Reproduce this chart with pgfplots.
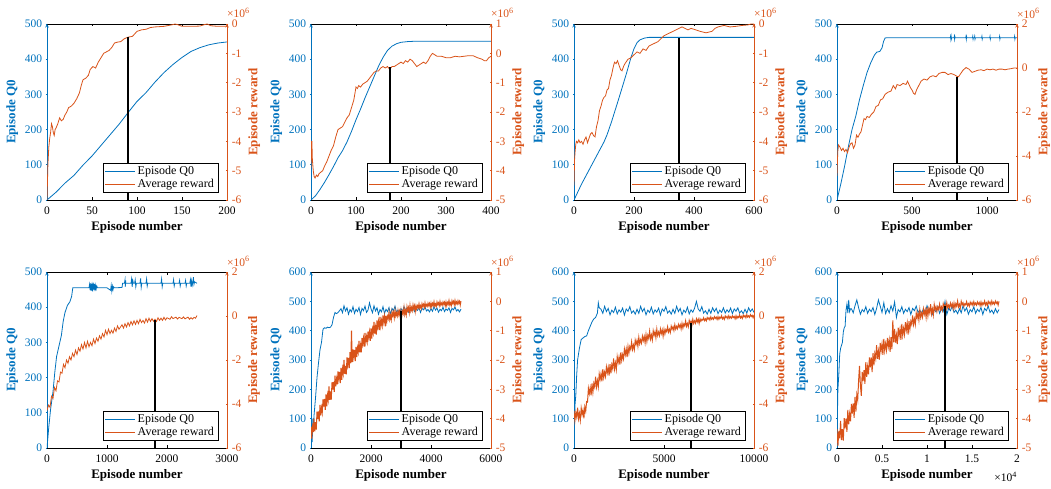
\documentclass[border=0pt]{standalone}
\usepackage{fontspec}
\setmainfont{Liberation Serif}
\usepackage{pgfplots}
\pgfplotsset{compat=1.18}
\definecolor{mblue}{RGB}{0,114,189}
\definecolor{morange}{RGB}{217,83,25}
\newcommand\ticfont{\fontsize{11.5}{13}\selectfont}
\newcommand\labfont{\fontsize{13}{15}\selectfont\bfseries}
\newcommand\legfont{\fontsize{12}{13}\selectfont}
\pgfplotsset{
  panelbase/.style={scale only axis, width=180pt, height=176pt, anchor=south west,
    tick align=inside, major tick length=2.5pt, tick style={line width=0.6pt},
    /pgf/number format/assume math mode=true, /pgf/number format/1000 sep={},
    scaled ticks=false, axis line style={-, line width=0.6pt},
    tick label style={font=\ticfont},
    every axis plot/.append style={line width=0.8pt}},
  leftpanel/.style={panelbase, axis x line=box, axis y line=left,
    x axis line style={black}, y axis line style={mblue},
    xtick style={black}, ytick style={mblue}, xticklabel shift=3pt,
    yticklabel style={text=mblue}, ylabel style={font=\labfont, text=mblue},
    xlabel style={font=\labfont, text=black},
    xlabel={Episode number}, ylabel={Episode Q0}},
  rightpanel/.style={panelbase, axis x line=none, axis y line=right,
    y axis line style={morange}, ytick style={morange},
    yticklabel style={text=morange}, ylabel style={font=\labfont, text=morange},
    ylabel={Episode reward},
    legend style={at={(0.95,0.045)}, anchor=south east, draw=black, fill=white,
      font=\legfont, inner xsep=2pt, inner ysep=1pt, row sep=-1pt, cells={anchor=west}},
    legend image code/.code={\draw[##1, line width=0.8pt] (0pt,0pt) -- (30pt,0pt);},
    extra description/.code={\node[anchor=base west, text=morange, font=\ticfont, inner sep=0pt] at (1,1) [yshift=6pt] {×10\textsuperscript{6}};}}
}
\begin{document}
\begin{tikzpicture}
\useasboundingbox (0pt,0pt) rectangle (1051pt,489pt);
% ---------------- Panel 1
\begin{axis}[leftpanel, at={(47pt,289pt)}, xmin=0, xmax=200, ymin=0, ymax=500, xtick={0,50,...,200}, ytick={0,100,...,500}]
\addplot[mblue] coordinates {(0,0)(10,22)(20,48)(30,70)(40,99)(50,125)(60,155)(70,185)(80,215)(90,248)(100,280)(110,305)(120,335)(130,362)(140,385)(150,405)(160,422)(170,433)(180,441)(190,446)(200,449)};
\end{axis}
\begin{axis}[rightpanel, at={(47pt,289pt)}, xmin=0, xmax=200, ymin=-6, ymax=0, ytick={-6,...,0}]
\addlegendimage{mblue}\addlegendentry{Episode Q0}
\addplot[morange] coordinates {(0,-6)(1,-4.8)(2,-4.2)(3,-3.9)(4,-3.7)(5,-3.4)(6,-3.5)(7,-3.7)(8,-3.8)(9,-3.6)(10,-3.55)(12,-3.4)(14,-3.2)(16,-3.3)(18,-3.25)(20,-3.1)(22,-3.0)(24,-2.85)(27,-2.8)(30,-2.7)(33,-2.55)(36,-2.35)(38,-2.1)(40,-1.9)(43,-1.85)(46,-1.75)(48,-1.55)(51,-1.45)(54,-1.5)(57,-1.3)(60,-1.15)(63,-1.0)(66,-0.95)(69,-0.9)(72,-0.8)(75,-0.65)(78,-0.62)(82,-0.6)(86,-0.5)(90,-0.45)(95,-0.42)(100,-0.25)(105,-0.2)(110,-0.18)(115,-0.12)(120,-0.1)(130,-0.08)(140,-0.02)(142,0)(145,-0.02)(150,-0.08)(160,-0.08)(170,-0.07)(175,-0.02)(178,0)(182,-0.06)(190,-0.08)(200,-0.08)};
\addlegendentry{Average reward}
\addplot[black, line width=1.6pt, forget plot] coordinates {(90,-6)(90,-0.45)};
\end{axis}
% ---------------- Panel 2
\begin{axis}[leftpanel, at={(311pt,289pt)}, xmin=0, xmax=400, ymin=0, ymax=500, xtick={0,100,...,400}, ytick={0,100,...,500}]
\addplot[mblue] coordinates {(0,0)(10,12)(20,30)(30,50)(40,72)(50,95)(60,120)(70,140)(80,165)(90,195)(100,228)(110,258)(120,290)(130,320)(140,350)(150,380)(160,405)(170,425)(180,437)(190,444)(200,448)(215,450)(230,451)(400,451)};
\end{axis}
\begin{axis}[rightpanel, at={(311pt,289pt)}, xmin=0, xmax=400, ymin=-5, ymax=1, ytick={-5,...,1}]
\addlegendimage{mblue}\addlegendentry{Episode Q0}
\addplot[morange] coordinates {(0,-3.9)(1,-3.0)(2,-3.0)(3,-3.6)(5,-4.0)(7,-4.2)(9,-4.25)(12,-4.15)(15,-4.2)(18,-4.1)(22,-4.05)(26,-4.0)(30,-3.85)(35,-3.7)(40,-3.5)(45,-3.3)(50,-3.15)(55,-2.85)(60,-2.6)(65,-2.55)(70,-2.5)(75,-2.35)(80,-2.2)(85,-2.1)(90,-1.85)(95,-1.6)(100,-1.15)(103,-1.2)(106,-1.1)(110,-1.15)(115,-1.05)(120,-1.0)(125,-0.95)(130,-0.85)(135,-0.75)(140,-0.65)(145,-0.6)(150,-0.6)(155,-0.5)(160,-0.45)(165,-0.5)(170,-0.45)(175,-0.55)(180,-0.45)(185,-0.45)(190,-0.4)(195,-0.35)(200,-0.3)(205,-0.35)(210,-0.25)(215,-0.3)(220,-0.2)(225,-0.25)(230,-0.35)(235,-0.45)(240,-0.4)(245,-0.35)(250,-0.3)(255,-0.35)(260,-0.25)(265,-0.1)(270,0)(275,-0.05)(280,-0.1)(290,-0.1)(300,-0.15)(310,-0.15)(320,-0.1)(330,-0.12)(340,-0.1)(350,-0.08)(360,-0.08)(370,-0.15)(380,-0.2)(385,-0.25)(390,-0.25)(395,-0.15)(400,-0.1)};
\addlegendentry{Average reward}
\addplot[black, line width=1.6pt, forget plot] coordinates {(175,-5)(175,-0.45)};
\end{axis}
% ---------------- Panel 3
\begin{axis}[leftpanel, at={(574pt,289pt)}, xmin=0, xmax=600, ymin=0, ymax=500, xtick={0,200,...,600}, ytick={0,100,...,500}]
\addplot[mblue] coordinates {(0,0)(10,18)(25,45)(50,85)(75,125)(100,165)(110,185)(125,222)(150,290)(175,360)(190,405)(200,430)(210,447)(220,455)(235,460)(250,462)(600,462)};
\end{axis}
\begin{axis}[rightpanel, at={(574pt,289pt)}, xmin=0, xmax=600, ymin=-6, ymax=0, ytick={-6,...,0}]
\addlegendimage{mblue}\addlegendentry{Episode Q0}
\addplot[morange] coordinates {(0,-5.5)(2,-4.6)(4,-4.3)(6,-4.1)(8,-4.0)(12,-4.05)(16,-3.95)(20,-4.05)(25,-4.0)(30,-4.1)(35,-3.95)(40,-3.85)(45,-4.05)(50,-3.9)(55,-3.75)(60,-3.7)(65,-3.8)(70,-3.85)(75,-3.5)(80,-3.3)(85,-2.95)(90,-2.8)(95,-2.6)(100,-2.5)(105,-2.45)(110,-2.25)(115,-2.2)(120,-1.9)(125,-1.75)(130,-1.5)(135,-1.3)(140,-1.35)(145,-1.25)(150,-1.4)(155,-1.55)(160,-1.6)(165,-1.45)(170,-1.35)(180,-1.2)(190,-1.15)(200,-1.05)(210,-0.95)(220,-1.0)(230,-0.85)(240,-0.9)(250,-0.75)(260,-0.7)(270,-0.65)(280,-0.6)(290,-0.5)(300,-0.4)(310,-0.35)(320,-0.3)(330,-0.25)(340,-0.2)(350,-0.15)(360,-0.1)(370,-0.15)(380,-0.2)(390,-0.15)(400,-0.18)(420,-0.25)(440,-0.3)(460,-0.25)(470,-0.15)(480,-0.1)(500,-0.05)(520,-0.1)(540,-0.08)(560,-0.05)(580,-0.03)(590,0)(600,0)};
\addlegendentry{Average reward}
\addplot[black, line width=1.6pt, forget plot] coordinates {(350,-6)(350,-0.49)};
\end{axis}
% ---------------- Panel 4
\begin{axis}[leftpanel, at={(837pt,289pt)}, xmin=0, xmax=1200, ymin=0, ymax=500, xtick={0,500,1000}, ytick={0,100,...,500}]
\addplot[mblue] coordinates {(0,0)(25,45)(50,95)(75,150)(100,200)(125,238)(150,285)(175,325)(200,362)(225,390)(250,412)(265,420)(285,422)(300,432)(310,450)(320,460)(330,461)(755,461)(757,465)(759,457)(761,465)(763,458)(765,461)(780,461)(782,465)(784,457)(786,464)(788,461)(858,461)(860,465)(862,457)(864,464)(866,461)(903,461)(905,465)(907,457)(909,461)(916,461)(918,465)(920,457)(922,461)(964,461)(966,465)(968,457)(970,461)(1018,461)(1020,465)(1022,457)(1024,461)(1082,461)(1084,465)(1086,457)(1088,461)(1182,461)(1184,465)(1186,457)(1188,461)(1200,461)};
\end{axis}
\begin{axis}[rightpanel, at={(837pt,289pt)}, xmin=0, xmax=1200, ymin=-6, ymax=2, ytick={-6,-4,...,2}]
\addlegendimage{mblue}\addlegendentry{Episode Q0}
\addplot[morange] coordinates {(0,-4.9)(5,-3.8)(10,-3.5)(20,-3.6)(30,-3.75)(40,-3.65)(50,-3.8)(60,-3.7)(70,-3.85)(80,-3.6)(90,-3.45)(100,-3.4)(110,-3.65)(120,-3.5)(130,-3.05)(140,-3.15)(150,-3.0)(160,-2.9)(170,-2.6)(180,-2.3)(190,-2.35)(200,-2.2)(215,-2.25)(230,-2.1)(245,-2.0)(260,-1.75)(275,-1.7)(290,-1.45)(305,-1.4)(320,-1.2)(340,-1.1)(360,-1.05)(375,-0.8)(390,-0.95)(400,-0.75)(420,-0.8)(440,-0.7)(460,-0.75)(470,-0.6)(480,-0.75)(490,-0.9)(500,-1.0)(510,-1.15)(520,-1.2)(530,-1.0)(545,-0.8)(560,-0.6)(580,-0.5)(600,-0.55)(620,-0.4)(640,-0.35)(660,-0.4)(680,-0.25)(700,-0.2)(720,-0.2)(740,-0.3)(760,-0.25)(780,-0.3)(800,-0.38)(810,-0.4)(820,-0.3)(840,-0.1)(860,0.02)(880,-0.05)(900,-0.2)(920,-0.15)(940,-0.1)(960,-0.08)(980,-0.12)(1000,-0.05)(1020,-0.08)(1040,-0.05)(1060,-0.1)(1080,-0.05)(1100,-0.05)(1120,-0.08)(1140,-0.05)(1160,-0.03)(1180,0)(1200,0)};
\addlegendentry{Average reward}
\addplot[black, line width=1.6pt, forget plot] coordinates {(800,-6)(800,-0.4)};
\end{axis}
% ---------------- Panel 5
\begin{axis}[leftpanel, at={(47pt,41pt)}, xmin=0, xmax=3000, ymin=0, ymax=500, xtick={0,1000,...,3000}, ytick={0,100,...,500}]
\addplot[mblue] coordinates {(0,0)(30,60)(60,110)(100,160)(130,215)(160,260)(200,290)(240,320)(270,360)(300,385)(340,405)(380,415)(410,430)(430,455)(500,455)(700,455)(710,465)(720,448)(730,468)(740,447)(750,462)(760,445)(770,470)(780,450)(790,466)(800,446)(810,462)(820,452)(830,460)(840,455)(900,455)(1000,455)(1060,448)(1070,462)(1080,446)(1090,460)(1100,450)(1110,458)(1120,455)(1250,456)(1260,468)(1290,468)(1300,478)(1305,458)(1310,476)(1315,468)(1400,468)(1410,480)(1420,458)(1430,476)(1440,468)(1460,468)(1470,478)(1480,458)(1490,468)(1550,468)(1560,482)(1570,456)(1580,468)(1650,468)(1660,480)(1670,460)(1680,468)(1900,468)(1910,480)(1920,458)(1930,468)(2000,468)(2100,468)(2110,478)(2120,460)(2130,468)(2200,468)(2210,476)(2220,460)(2230,468)(2300,468)(2310,476)(2320,460)(2330,468)(2380,468)(2390,478)(2400,458)(2410,475)(2420,462)(2430,470)(2440,485)(2450,465)(2460,472)(2500,468)};
\end{axis}
\begin{axis}[rightpanel, at={(47pt,41pt)}, xmin=0, xmax=3000, ymin=-6, ymax=2, ytick={-6,-4,...,2}]
\addlegendimage{mblue}\addlegendentry{Episode Q0}
\addplot[morange] coordinates {(0,-4.30)(25,-4.05)(50,-4.15)(75,-3.65)(100,-3.75)(125,-3.25)(150,-3.40)(175,-2.95)(200,-3.00)(225,-2.55)(250,-2.60)(275,-2.20)(300,-2.35)(325,-2.00)(350,-2.15)(375,-1.85)(400,-2.00)(425,-1.70)(450,-1.85)(475,-1.55)(500,-1.75)(525,-1.45)(550,-1.60)(575,-1.30)(600,-1.50)(625,-1.20)(650,-1.45)(675,-1.15)(700,-1.40)(725,-1.20)(750,-1.35)(775,-1.05)(800,-1.25)(825,-1.00)(850,-1.15)(875,-0.90)(900,-1.05)(925,-0.80)(950,-0.95)(975,-0.65)(1000,-0.85)(1025,-0.60)(1050,-0.80)(1075,-0.65)(1100,-0.78)(1125,-0.55)(1150,-0.70)(1175,-0.45)(1200,-0.60)(1250,-0.40)(1275,-0.55)(1300,-0.35)(1325,-0.50)(1350,-0.30)(1375,-0.45)(1400,-0.25)(1425,-0.40)(1450,-0.22)(1475,-0.38)(1500,-0.20)(1525,-0.35)(1550,-0.15)(1575,-0.30)(1600,-0.20)(1625,-0.32)(1650,-0.12)(1675,-0.28)(1700,-0.10)(1725,-0.25)(1750,-0.12)(1775,-0.24)(1800,-0.15)(1825,-0.25)(1850,-0.08)(1875,-0.20)(1900,-0.10)(1925,-0.20)(1950,-0.06)(1975,-0.18)(2000,-0.08)(2050,-0.15)(2075,-0.03)(2100,-0.12)(2150,-0.05)(2175,-0.14)(2200,-0.06)(2250,-0.12)(2275,-0.04)(2300,-0.13)(2350,-0.05)(2375,-0.15)(2400,-0.08)(2425,-0.14)(2450,-0.06)(2475,-0.10)(2500,0.02)};
\addlegendentry{Average reward}
\addplot[black, line width=1.6pt, forget plot] coordinates {(1800,-6)(1800,-0.18)};
\end{axis}
% ---------------- Panel 6
\begin{axis}[leftpanel, at={(311pt,41pt)}, xmin=0, xmax=6000, ymin=0, ymax=600, xtick={0,2000,...,6000}, ytick={0,100,...,600}]
\addplot[mblue] coordinates {(0,0)(20,60)(40,20)(60,100)(80,70)(100,110)(150,170)(200,240)(250,290)(300,335)(350,360)(400,405)(450,410)(500,408)(550,412)(600,410)(650,412)(700,420)(750,445)(800,462)(850,458)(900,462)(950,468)(1000,475)(1050,461)(1100,485)(1150,467)(1200,478)(1250,456)(1300,472)(1350,464)(1400,482)(1450,459)(1500,473)(1550,465)(1600,479)(1650,455)(1700,476)(1750,468)(1800,484)(1850,462)(1900,470)(1950,495)(2000,475)(2050,461)(2100,485)(2150,467)(2200,478)(2250,456)(2300,472)(2350,464)(2400,482)(2450,459)(2500,473)(2550,465)(2600,479)(2650,455)(2700,476)(2750,468)(2800,484)(2850,462)(2900,470)(2950,458)(3000,475)(3050,466)(3100,482)(3150,470)(3200,477)(3250,463)(3300,473)(3350,468)(3400,480)(3450,465)(3500,474)(3550,469)(3600,478)(3650,462)(3700,476)(3750,471)(3800,481)(3850,467)(3900,472)(3950,464)(4000,475)(4050,466)(4100,482)(4150,470)(4200,477)(4250,463)(4300,473)(4350,468)(4400,480)(4450,465)(4500,474)(4550,469)(4600,478)(4650,462)(4700,476)(4750,471)(4800,481)(4850,467)(4900,472)(4950,464)(5000,474)};
\end{axis}
\begin{axis}[rightpanel, at={(311pt,41pt)}, xmin=0, xmax=6000, ymin=-5, ymax=1, ytick={-5,...,1}]
\addlegendimage{mblue}\addlegendentry{Episode Q0}
\addplot[morange, line width=1pt] coordinates {(0,-4.27)(25,-4.68)(50,-4.28)(75,-4.46)(100,-4.0)(125,-4.43)(150,-4.12)(175,-4.37)(200,-3.76)(225,-4.01)(250,-3.75)(275,-4.09)(300,-3.53)(325,-3.89)(350,-3.62)(375,-3.79)(400,-3.34)(425,-3.59)(450,-3.33)(475,-3.70)(500,-3.17)(525,-3.58)(550,-3.19)(575,-3.36)(600,-2.90)(625,-3.36)(650,-3.07)(675,-3.35)(700,-2.76)(725,-3.01)(750,-2.75)(775,-3.09)(800,-2.53)(825,-2.90)(850,-2.64)(875,-2.83)(900,-2.39)(925,-2.65)(950,-2.41)(975,-2.79)(1000,-2.27)(1025,-2.68)(1050,-2.29)(1075,-2.46)(1100,-2.00)(1125,-2.47)(1150,-2.20)(1175,-2.49)(1200,-1.91)(1225,-2.17)(1250,-1.93)(1275,-2.28)(1300,-1.73)(1325,-2.11)(1350,-1.0)(1375,-2.07)(1400,-1.64)(1425,-1.90)(1450,-1.66)(1475,-2.04)(1500,-1.55)(1525,-1.90)(1550,-1.58)(1575,-1.73)(1600,-1.35)(1625,-1.74)(1650,-1.50)(1675,-1.74)(1700,-1.25)(1725,-1.46)(1750,-1.25)(1775,-1.54)(1800,-1.08)(1825,-1.40)(1850,-1.20)(1875,-1.38)(1900,-1.03)(1925,-1.24)(1950,-1.04)(1975,-1.35)(2000,-0.92)(2025,-1.27)(2050,-0.94)(2075,-1.08)(2100,-0.70)(2125,-1.10)(2150,-0.88)(2175,-1.13)(2200,-0.65)(2225,-0.88)(2250,-0.68)(2275,-0.98)(2300,-0.53)(2325,-0.85)(2350,-0.65)(2375,-0.83)(2400,-0.48)(2425,-0.71)(2450,-0.51)(2475,-0.85)(2500,-0.49)(2525,-0.70)(2550,-0.51)(2575,-0.59)(2600,-0.37)(2625,-0.62)(2650,-0.48)(2675,-0.63)(2700,-0.35)(2725,-0.49)(2750,-0.38)(2775,-0.56)(2800,-0.30)(2825,-0.50)(2850,-0.39)(2875,-0.50)(2900,-0.31)(2925,-0.46)(2950,-0.34)(2975,-0.55)(3000,-0.31)(3025,-0.52)(3050,-0.34)(3075,-0.42)(3100,-0.20)(3125,-0.45)(3150,-0.31)(3175,-0.46)(3200,-0.18)(3225,-0.32)(3250,-0.21)(3275,-0.39)(3300,-0.13)(3325,-0.33)(3350,-0.21)(3375,-0.32)(3400,-0.12)(3425,-0.26)(3450,-0.15)(3475,-0.35)(3500,-0.15)(3525,-0.27)(3550,-0.15)(3575,-0.22)(3600,-0.08)(3625,-0.23)(3650,-0.15)(3675,-0.25)(3700,-0.08)(3725,-0.17)(3750,-0.10)(3775,-0.21)(3800,-0.05)(3825,-0.18)(3850,-0.11)(3875,-0.17)(3900,-0.06)(3925,-0.15)(3950,-0.07)(3975,-0.20)(4000,-0.06)(4025,-0.19)(4050,-0.07)(4075,-0.14)(4100,-0.01)(4125,-0.16)(4150,-0.09)(4175,-0.18)(4200,-0.02)(4225,-0.11)(4250,-0.05)(4275,-0.15)(4300,0.00)(4325,-0.13)(4350,-0.06)(4375,-0.13)(4400,-0.02)(4425,-0.10)(4450,-0.03)(4475,-0.16)(4500,-0.02)(4525,-0.15)(4550,-0.04)(4575,-0.10)(4600,0.03)(4625,-0.12)(4650,-0.05)(4675,-0.15)(4700,0.02)(4725,-0.07)(4750,0.00)(4775,-0.12)(4800,0.03)(4825,-0.10)(4850,-0.02)(4875,-0.09)(4900,0.02)(4925,-0.07)(4950,0.00)(4975,-0.13)(5000,0.01)};
\addlegendentry{Average reward}
\addplot[black, line width=1.6pt, forget plot] coordinates {(3000,-5)(3000,-0.32)};
\end{axis}
% ---------------- Panel 7
\begin{axis}[leftpanel, at={(574pt,41pt)}, xmin=0, xmax=10000, ymin=0, ymax=600, xtick={0,5000,10000}, ytick={0,100,...,600}]
\addplot[mblue] coordinates {(0,0)(30,100)(60,150)(100,180)(150,250)(200,300)(250,320)(300,340)(400,370)(500,375)(600,380)(700,382)(800,400)(900,415)(1000,430)(1100,440)(1200,445)(1300,460)(1350,495)(1400,478)(1500,473)(1600,459)(1700,483)(1800,465)(1900,476)(2000,454)(2100,470)(2200,462)(2300,480)(2400,457)(2500,471)(2600,463)(2700,477)(2800,453)(2900,474)(3000,466)(3100,482)(3200,460)(3300,468)(3400,456)(3500,473)(3600,459)(3700,483)(3800,465)(3900,476)(4000,454)(4100,470)(4200,462)(4300,480)(4400,457)(4500,471)(4600,463)(4700,477)(4800,453)(4900,474)(5000,466)(5100,482)(5200,460)(5300,468)(5400,456)(5500,473)(5600,459)(5700,483)(5800,465)(5900,476)(6000,454)(6100,470)(6200,462)(6300,480)(6400,457)(6500,471)(6600,463)(6700,477)(6800,500)(6900,474)(7000,466)(7100,482)(7200,460)(7300,468)(7400,456)(7500,473)(7600,459)(7700,478)(7800,465)(7900,476)(8000,458)(8100,470)(8200,462)(8300,478)(8400,460)(8500,471)(8600,463)(8700,477)(8800,458)(8900,474)(9000,466)(9100,478)(9200,460)(9300,468)(9400,458)(9500,473)(9600,460)(9700,478)(9800,465)(9900,474)(10000,462)};
\end{axis}
\begin{axis}[rightpanel, at={(574pt,41pt)}, xmin=0, xmax=10000, ymin=-6, ymax=2, ytick={-6,-4,...,2}]
\addlegendimage{mblue}\addlegendentry{Episode Q0}
\addplot[morange, line width=1pt] coordinates {(0,-4.32)(50,-4.76)(100,-4.39)(150,-4.60)(200,-4.17)(250,-4.67)(300,-4.42)(350,-4.74)(400,-4.19)(450,-4.48)(500,-4.27)(550,-4.65)(600,-4.13)(650,-4.33)(700,-3.89)(750,-3.91)(800,-3.29)(850,-3.53)(900,-3.26)(950,-3.61)(1000,-3.07)(1050,-3.47)(1100,-3.06)(1150,-3.23)(1200,-2.76)(1250,-3.22)(1300,-2.93)(1350,-3.22)(1400,-2.63)(1450,-2.88)(1500,-2.62)(1550,-2.97)(1600,-2.42)(1650,-2.80)(1700,-2.55)(1750,-2.75)(1800,-2.32)(1850,-2.58)(1900,-2.33)(1950,-2.71)(2000,-2.19)(2050,-2.61)(2100,-2.21)(2150,-2.39)(2200,-1.93)(2250,-2.41)(2300,-2.13)(2350,-2.43)(2400,-1.85)(2450,-2.12)(2500,-1.87)(2550,-2.21)(2600,-1.65)(2650,-2.02)(2700,-1.76)(2750,-1.95)(2800,-1.51)(2850,-1.76)(2900,-1.50)(2950,-1.87)(3000,-1.39)(3050,-1.69)(3100,-1.39)(3150,-1.52)(3200,-1.18)(3250,-1.52)(3300,-1.32)(3350,-1.53)(3400,-1.10)(3450,-1.29)(3500,-1.11)(3550,-1.38)(3600,-0.97)(3650,-1.26)(3700,-1.08)(3750,-1.23)(3800,-0.92)(3850,-1.12)(3900,-0.93)(3950,-1.22)(4000,-0.84)(4050,-1.16)(4100,-0.87)(4150,-1.02)(4200,-0.69)(4250,-1.05)(4300,-0.86)(4350,-1.09)(4400,-0.67)(4450,-0.88)(4500,-0.71)(4550,-0.99)(4600,-0.60)(4650,-0.89)(4700,-0.73)(4750,-0.89)(4800,-0.59)(4850,-0.80)(4900,-0.63)(4950,-0.92)(5000,-0.60)(5050,-0.82)(5100,-0.62)(5150,-0.71)(5200,-0.49)(5250,-0.73)(5300,-0.60)(5350,-0.75)(5400,-0.46)(5450,-0.60)(5500,-0.49)(5550,-0.66)(5600,-0.40)(5650,-0.60)(5700,-0.47)(5750,-0.58)(5800,-0.38)(5850,-0.51)(5900,-0.39)(5950,-0.59)(6000,-0.33)(6050,-0.55)(6100,-0.36)(6150,-0.45)(6200,-0.22)(6250,-0.47)(6300,-0.34)(6350,-0.49)(6400,-0.20)(6450,-0.34)(6500,-0.23)(6550,-0.41)(6600,-0.15)(6650,-0.34)(6700,-0.22)(6750,-0.33)(6800,-0.13)(6850,-0.27)(6900,-0.14)(6950,-0.34)(7000,-0.13)(7050,-0.24)(7100,-0.15)(7150,-0.19)(7200,-0.08)(7250,-0.21)(7300,-0.13)(7350,-0.22)(7400,-0.07)(7450,-0.15)(7500,-0.08)(7550,-0.18)(7600,-0.04)(7650,-0.15)(7700,-0.08)(7750,-0.15)(7800,-0.03)(7850,-0.11)(7900,-0.05)(7950,-0.16)(8000,-0.03)(8050,-0.15)(8100,-0.05)(8150,-0.10)(8200,0.01)(8250,-0.13)(8300,-0.06)(8350,-0.15)(8400,0.00)(8450,-0.08)(8500,-0.02)(8550,-0.12)(8600,0.01)(8650,-0.10)(8700,-0.03)(8750,-0.10)(8800,0.01)(8850,-0.07)(8900,-0.02)(8950,-0.13)(9000,0.01)(9050,-0.11)(9100,-0.02)(9150,-0.07)(9200,0.05)(9250,-0.09)(9300,-0.02)(9350,-0.11)(9400,0.04)(9450,-0.04)(9500,0.02)(9550,-0.08)(9600,0.06)(9650,-0.05)(9700,0.01)(9750,-0.06)(9800,0.06)(9850,-0.02)(9900,0.03)(9950,-0.08)(10000,0.05)};
\addlegendentry{Average reward}
\addplot[black, line width=1.6pt, forget plot] coordinates {(6500,-6)(6500,-0.3)};
\end{axis}
% ---------------- Panel 8
\begin{axis}[leftpanel, at={(837pt,41pt)}, xmin=0, xmax=2, ymin=0, ymax=600, xtick={0,0.5,...,2}, ytick={0,100,...,600},
  extra description/.code={\node[anchor=north east, font=\ticfont, inner sep=0pt] at (1,0) [yshift=-24pt] {×10\textsuperscript{4}};}]
\addplot[mblue] coordinates {(0,0)(0.005,120)(0.01,200)(0.02,250)(0.03,320)(0.04,340)(0.05,350)(0.06,360)(0.07,395)(0.08,410)(0.09,415)(0.1,470)(0.11,490)(0.12,460)(0.13,505)(0.14,465)(0.15,475)(0.16,475)(0.18,461)(0.20,485)(0.22,505)(0.24,478)(0.26,456)(0.28,472)(0.30,464)(0.32,482)(0.34,459)(0.36,473)(0.38,465)(0.40,479)(0.42,455)(0.44,476)(0.46,505)(0.48,484)(0.50,462)(0.52,495)(0.54,458)(0.56,475)(0.58,461)(0.60,485)(0.62,467)(0.64,498)(0.66,445)(0.68,472)(0.70,464)(0.72,482)(0.74,459)(0.76,473)(0.78,465)(0.80,479)(0.82,455)(0.84,476)(0.86,468)(0.88,484)(0.90,462)(0.92,470)(0.94,458)(0.96,475)(0.98,461)(1.00,485)(1.02,467)(1.04,478)(1.06,456)(1.08,472)(1.10,464)(1.12,482)(1.14,459)(1.16,473)(1.18,465)(1.20,500)(1.22,455)(1.24,476)(1.26,468)(1.28,484)(1.30,462)(1.32,470)(1.34,458)(1.36,475)(1.38,461)(1.40,485)(1.42,467)(1.44,478)(1.46,456)(1.48,472)(1.50,464)(1.52,482)(1.54,459)(1.56,473)(1.58,465)(1.60,479)(1.62,455)(1.64,476)(1.66,468)(1.68,484)(1.70,462)(1.72,470)(1.74,458)(1.76,475)(1.78,461)(1.80,472)};
\end{axis}
\begin{axis}[rightpanel, at={(837pt,41pt)}, xmin=0, xmax=2, ymin=-5, ymax=1, ytick={-5,...,1}]
\addlegendimage{mblue}\addlegendentry{Episode Q0}
\addplot[morange, line width=1pt] coordinates {(0.00,-4.36)(0.01,-4.93)(0.02,-4.42)(0.03,-4.67)(0.04,-4.08)(0.05,-4.73)(0.06,-4.36)(0.07,-4.75)(0.08,-3.98)(0.09,-4.33)(0.10,-4.00)(0.11,-4.45)(0.12,-3.70)(0.13,-4.19)(0.14,-3.84)(0.15,-4.09)(0.16,-3.50)(0.17,-3.83)(0.18,-3.48)(0.19,-3.97)(0.20,-3.26)(0.21,-3.76)(0.22,-3.18)(0.23,-3.36)(0.24,-2.70)(0.25,-2.20)(0.26,-2.87)(0.27,-3.22)(0.28,-2.41)(0.29,-2.72)(0.30,-2.35)(0.31,-2.81)(0.32,-2.07)(0.33,-2.57)(0.34,-2.23)(0.35,-2.49)(0.36,-1.91)(0.37,-2.25)(0.38,-1.91)(0.39,-2.41)(0.40,-1.77)(0.41,-2.18)(0.42,-1.78)(0.43,-1.95)(0.44,-1.49)(0.45,-1.96)(0.46,-1.69)(0.47,-1.99)(0.48,-1.42)(0.49,-1.69)(0.50,-1.45)(0.51,-1.82)(0.52,-1.28)(0.53,-1.68)(0.54,-1.44)(0.55,-1.66)(0.56,-1.25)(0.57,-1.54)(0.58,-1.31)(0.59,-1.72)(0.60,-1.22)(0.61,-1.63)(0.62,-0.65)(0.63,-1.40)(0.64,-0.94)(0.65,-1.41)(0.66,-1.15)(0.67,-1.46)(0.68,-0.90)(0.69,-1.18)(0.70,-0.95)(0.71,-1.31)(0.72,-0.77)(0.73,-1.16)(0.74,-0.92)(0.75,-1.13)(0.76,-0.71)(0.77,-0.98)(0.78,-0.74)(0.79,-1.13)(0.80,-0.68)(0.81,-0.95)(0.82,-0.68)(0.83,-0.79)(0.84,-0.48)(0.85,-0.79)(0.86,-0.60)(0.87,-0.79)(0.88,-0.40)(0.89,-0.57)(0.90,-0.40)(0.91,-0.64)(0.92,-0.29)(0.93,-0.55)(0.94,-0.40)(0.95,-0.54)(0.96,-0.26)(0.97,-0.44)(0.98,-0.29)(0.99,-0.55)(1.00,-0.21)(1.01,-0.50)(1.02,-0.25)(1.03,-0.39)(1.04,-0.10)(1.05,-0.43)(1.06,-0.26)(1.07,-0.47)(1.08,-0.11)(1.09,-0.30)(1.10,-0.18)(1.11,-0.35)(1.12,-0.19)(1.13,-0.28)(1.14,-0.10)(1.15,-0.29)(1.16,-0.19)(1.17,-0.31)(1.18,-0.08)(1.19,-0.20)(1.20,-0.11)(1.21,-0.27)(1.22,-0.05)(1.23,-0.22)(1.24,-0.13)(1.25,-0.22)(1.26,-0.06)(1.27,-0.18)(1.28,-0.08)(1.29,-0.25)(1.30,-0.06)(1.31,-0.23)(1.32,-0.08)(1.33,-0.17)(1.34,0.01)(1.35,-0.19)(1.36,-0.10)(1.37,-0.22)(1.38,0.00)(1.39,-0.12)(1.40,-0.05)(1.41,-0.17)(1.42,-0.08)(1.43,-0.12)(1.44,-0.01)(1.45,-0.15)(1.46,-0.08)(1.47,-0.17)(1.48,-0.03)(1.49,-0.11)(1.50,-0.04)(1.51,-0.14)(1.52,-0.01)(1.53,-0.12)(1.54,-0.06)(1.55,-0.13)(1.56,-0.02)(1.57,-0.10)(1.58,-0.04)(1.59,-0.15)(1.60,-0.02)(1.61,-0.14)(1.62,-0.05)(1.63,-0.10)(1.64,0.01)(1.65,-0.13)(1.66,-0.05)(1.67,-0.14)(1.68,0.00)(1.69,-0.08)(1.70,-0.02)(1.71,-0.12)(1.72,0.01)(1.73,-0.09)(1.74,-0.03)(1.75,-0.10)(1.76,0.01)(1.77,-0.07)(1.78,-0.02)(1.79,-0.13)(1.80,0.00)};
\addlegendentry{Average reward}
\addplot[black, line width=1.6pt, forget plot] coordinates {(1.2,-5)(1.2,-0.15)};
\end{axis}
\end{tikzpicture}
\end{document}
